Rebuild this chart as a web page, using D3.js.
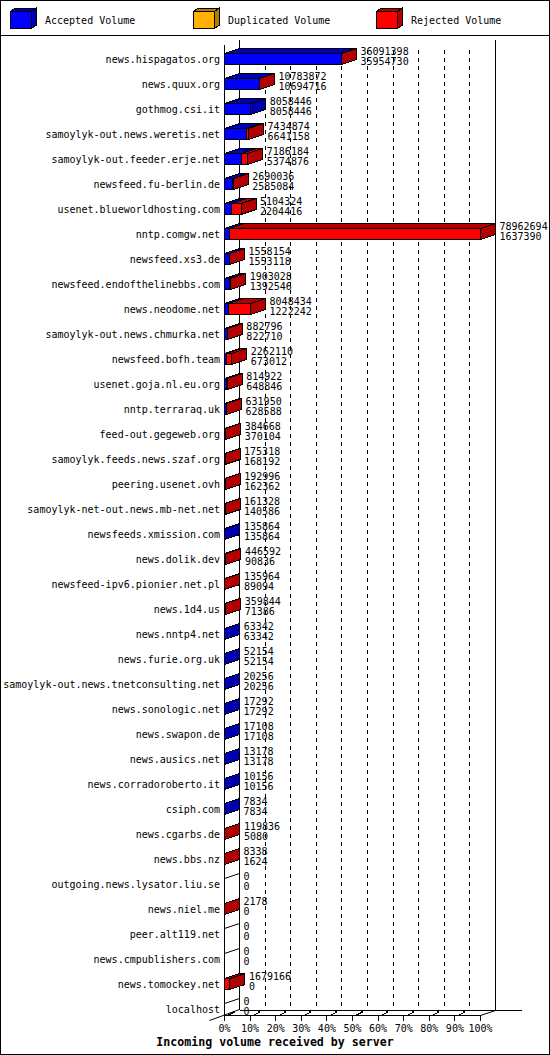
<!DOCTYPE html>
<html>
<head>
<meta charset="utf-8">
<script src="https://cdn.jsdelivr.net/npm/d3@7"></script>
<style>
  body { margin: 0; background: #fff; }
  text { font-family: "DejaVu Sans Mono", monospace; font-size: 10px; fill: #000; }
  .title { font-weight: bold; font-size: 11.6px; }
</style>
</head>
<body>
<div id="chart"></div>
<script>
// servers, top to bottom
const servers = [
  "news.hispagatos.org", "news.quux.org", "gothmog.csi.it", "samoylyk-out.news.weretis.net",
  "samoylyk-out.feeder.erje.net", "newsfeed.fu-berlin.de", "usenet.blueworldhosting.com",
  "nntp.comgw.net", "newsfeed.xs3.de", "newsfeed.endofthelinebbs.com", "news.neodome.net",
  "samoylyk-out.news.chmurka.net", "newsfeed.bofh.team", "usenet.goja.nl.eu.org",
  "nntp.terraraq.uk", "feed-out.gegeweb.org", "samoylyk.feeds.news.szaf.org",
  "peering.usenet.ovh", "samoylyk-net-out.news.mb-net.net", "newsfeeds.xmission.com",
  "news.dolik.dev", "newsfeed-ipv6.pionier.net.pl", "news.1d4.us", "news.nntp4.net",
  "news.furie.org.uk", "samoylyk-out.news.tnetconsulting.net", "news.sonologic.net",
  "news.swapon.de", "news.ausics.net", "news.corradoroberto.it", "csiph.com",
  "news.cgarbs.de", "news.bbs.nz", "outgoing.news.lysator.liu.se", "news.niel.me",
  "peer.alt119.net", "news.cmpublishers.com", "news.tomockey.net", "localhost"
];

// total incoming volume (upper number)
const totalVolume = [
  36091398, 10783872, 8058446, 7434874, 7186184, 2690036, 5104324, 78962694, 1558154,
  1903028, 8048434, 882796, 2262110, 814922, 631950, 384668, 175318, 192996, 161328,
  135864, 446592, 135964, 359844, 63342, 52154, 20256, 17292, 17108, 13178, 10156,
  7834, 119836, 8338, 0, 2178, 0, 0, 1679166, 0
];

// accepted volume (lower number)
const acceptedVolume = [
  35954730, 10694716, 8058446, 6641158, 5374876, 2585084, 2204416, 1637390, 1553118,
  1392546, 1222242, 822710, 673012, 648846, 628588, 370104, 168192, 162362, 140586,
  135864, 90836, 89094, 71386, 63342, 52154, 20256, 17292, 17108, 13178, 10156,
  7834, 5080, 1624, 0, 0, 0, 0, 0, 0
];

const legendLabels = ["Accepted Volume", "Duplicated Volume", "Rejected Volume"];
const legendColors = ["#0000ff", "#ffb000", "#ff0000"];
const tickLabels = ["0%", "10%", "20%", "30%", "40%", "50%", "60%", "70%", "80%", "90%", "100%"];
const titleText = "Incoming volume received by server";

const width = 550;
const height = 1055;
const dx = 15, dy = 5;      // depth of the 3d boxes
const barH = 11;
const floorBack = 1010, floorFront = 1015;

const dark = c => d3.color(c).darker(1).formatHex();

const svg = d3.select("#chart")
  .append("svg")
  .attr("width", width)
  .attr("height", height)
  .attr("shape-rendering", "crispEdges");

// frame + legend separator
svg.append("rect")
  .attr("x", 0.5).attr("y", 0.5)
  .attr("width", width - 1).attr("height", height - 1)
  .attr("fill", "#fff").attr("stroke", "#000");
svg.append("line")
  .attr("x1", 0).attr("x2", width).attr("y1", 35.5).attr("y2", 35.5)
  .attr("stroke", "#000");

// legend
const legend = svg.selectAll("g.legend")
  .data(legendLabels)
  .join("g")
  .attr("class", "legend")
  .attr("transform", (d, i) => `translate(${10.5 + i * 183}, 11.5)`);

legend.append("polygon")
  .attr("points", "0,0 5,-3.5 26,-3.5 21,0")
  .attr("fill", (d, i) => dark(legendColors[i]))
  .attr("stroke", "#000");
legend.append("polygon")
  .attr("points", "21,0 26,-3.5 26,13.5 21,17")
  .attr("fill", (d, i) => dark(legendColors[i]))
  .attr("stroke", "#000");
legend.append("rect")
  .attr("width", 21).attr("height", 17)
  .attr("fill", (d, i) => legendColors[i])
  .attr("stroke", "#000");
legend.append("text")
  .attr("x", 34.5)
  .attr("y", 12.5)
  .text(d => d);

// scales
const y = d3.scalePoint()
  .domain(servers)
  .range([59, 1009]);

const x = d3.scaleLinear()
  .domain([0, d3.max(totalVolume)])
  .range([224.5, 480.5]);

const pct = d3.scaleLinear()
  .domain([0, 100])
  .range([224.5, 480.5]);

// back wall: dashed grid lines and solid edges
svg.selectAll("line.grid")
  .data(d3.range(10, 100, 10))
  .join("line")
  .attr("class", "grid")
  .attr("x1", d => pct(d) + dx).attr("x2", d => pct(d) + dx)
  .attr("y1", 50).attr("y2", floorBack)
  .attr("stroke", "#000")
  .attr("stroke-dasharray", "4,4");

svg.append("line")
  .attr("x1", pct(0) + dx).attr("x2", pct(0) + dx)
  .attr("y1", 40).attr("y2", floorBack)
  .attr("stroke", "#000");
svg.append("line")
  .attr("x1", pct(100) + dx).attr("x2", pct(100) + dx)
  .attr("y1", 40).attr("y2", floorBack)
  .attr("stroke", "#000");
svg.append("line")
  .attr("x1", pct(0)).attr("x2", pct(0))
  .attr("y1", 45).attr("y2", floorFront + 5)
  .attr("stroke", "#000");

// floor
svg.append("line")
  .attr("x1", pct(0) + dx).attr("x2", 522)
  .attr("y1", floorBack + 0.5).attr("y2", floorBack + 0.5)
  .attr("stroke", "#000");
svg.append("line")
  .attr("x1", pct(0)).attr("x2", pct(100))
  .attr("y1", floorFront + 0.5).attr("y2", floorFront + 0.5)
  .attr("stroke", "#000");
svg.append("line")
  .attr("x1", pct(100)).attr("y1", floorFront + 0.5)
  .attr("x2", pct(100) + dx).attr("y2", floorBack + 0.5)
  .attr("stroke", "#000")
  .attr("shape-rendering", "auto");
svg.append("line")
  .attr("x1", pct(0) - dx).attr("y1", floorFront + dy + 0.5)
  .attr("x2", pct(0) + dx).attr("y2", floorBack - 0.5)
  .attr("stroke", "#000")
  .attr("shape-rendering", "auto");

// ticks along the floor
const ticks = svg.selectAll("g.tick")
  .data(tickLabels)
  .join("g")
  .attr("class", "tick")
  .attr("transform", (d, i) => `translate(${pct(i * 10)}, ${floorFront + 0.5})`);

ticks.append("line")
  .attr("y1", 0).attr("y2", 5)
  .attr("stroke", "#000");
ticks.filter((d, i) => i < 10).append("line")
  .attr("x1", 3).attr("y1", 0).attr("x2", 9).attr("y2", -3)
  .attr("stroke", "#000");
ticks.filter((d, i) => i < 10).append("rect")
  .attr("x", 8).attr("y", -4.5).attr("width", 2).attr("height", 2)
  .attr("fill", "#000");
ticks.append("text")
  .attr("text-anchor", "middle")
  .attr("y", 16)
  .text(d => d);

// rows: label, bar, numbers
const rows = servers.map((name, i) => ({
  name,
  total: totalVolume[i],
  accepted: acceptedVolume[i],
  segments: [
    { v0: 0, v1: acceptedVolume[i], color: legendColors[0] },
    { v0: acceptedVolume[i], v1: totalVolume[i], color: legendColors[2] }
  ].filter(s => s.v1 > s.v0)
}));

const row = svg.selectAll("g.row")
  .data(rows)
  .join("g")
  .attr("class", "row")
  .attr("transform", d => `translate(0, ${y(d.name)})`);

row.append("text")
  .attr("x", 220)
  .attr("y", 3.5)
  .attr("text-anchor", "end")
  .text(d => d.name);

const barTop = -barH / 2, barBottom = barH / 2;

row.each(function(d) {
  const g = d3.select(this);
  if (d.segments.length === 0) {
    // empty bar is just the top edge
    g.append("line")
      .attr("x1", x(0)).attr("y1", barTop)
      .attr("x2", x(0) + dx).attr("y2", barTop - dy)
      .attr("stroke", "#000")
      .attr("shape-rendering", "auto");
    return;
  }
  d.segments.forEach(s => {
    const x0 = x(s.v0), x1 = x(s.v1);
    g.append("polygon")
      .attr("points", [[x0, barTop], [x0 + dx, barTop - dy], [x1 + dx, barTop - dy], [x1, barTop]].join(" "))
      .attr("fill", dark(s.color))
      .attr("stroke", "#000");
    g.append("rect")
      .attr("x", x0).attr("y", barTop)
      .attr("width", x1 - x0).attr("height", barH)
      .attr("fill", s.color)
      .attr("stroke", "#000");
  });
  const last = d.segments[d.segments.length - 1];
  const xe = x(last.v1);
  g.append("polygon")
    .attr("points", [[xe, barTop], [xe + dx, barTop - dy], [xe + dx, barBottom - dy], [xe, barBottom]].join(" "))
    .attr("fill", dark(last.color))
    .attr("stroke", "#000");
});

row.append("text")
  .attr("x", d => x(d.total) + dx + 4)
  .attr("y", -4.5)
  .text(d => d.total);
row.append("text")
  .attr("x", d => x(d.total) + dx + 4)
  .attr("y", 6)
  .text(d => d.accepted);

// title
svg.append("text")
  .attr("class", "title")
  .attr("x", width / 2)
  .attr("y", 1046)
  .attr("text-anchor", "middle")
  .text(titleText);
</script>
</body>
</html>
